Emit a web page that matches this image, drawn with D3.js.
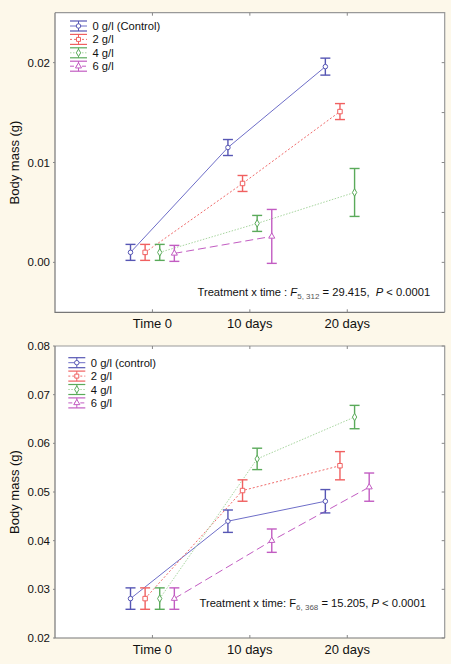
<!DOCTYPE html>
<html>
<head>
<meta charset="utf-8">
<script src="https://cdn.jsdelivr.net/npm/d3@7"></script>
<style>
  body { margin: 0; background: #fdf8ea; }
  svg { display: block; font-family: "Liberation Sans", Arial, sans-serif; }
  text { white-space: pre; }
</style>
</head>
<body>
<div id="chart"></div>
<script>
const categories = ['Time 0', '10 days', '20 days'];
const seriesTop = ['0 g/l (Control)', '2 g/l', '4 g/l', '6 g/l'];
const seriesBottom = ['0 g/l (control)', '2 g/l', '4 g/l', '6 g/l'];

// means and +/- error, one row per series, one column per time point
const topMeans = [
  [0.0010, 0.0115, 0.0196],
  [0.0010, 0.0079, 0.0151],
  [0.0010, 0.0039, 0.0070],
  [0.0009, 0.0026, null]
];
const topErr = [
  [0.0008, 0.0008, 0.00085],
  [0.0008, 0.0008, 0.0008],
  [0.0008, 0.0008, 0.0024],
  [0.0008, 0.0027, null]
];
const bottomMeans = [
  [0.0281, 0.0440, 0.0481],
  [0.0281, 0.0503, 0.0554],
  [0.0281, 0.0568, 0.0654],
  [0.0281, 0.0400, 0.0510]
];
const bottomErr = [
  [0.0022, 0.0023, 0.0024],
  [0.0022, 0.0022, 0.0029],
  [0.0022, 0.0022, 0.0024],
  [0.0022, 0.0024, 0.0029]
];
const topTicks = [0, 0.01, 0.02];
const bottomTicks = [0.02, 0.03, 0.04, 0.05, 0.06, 0.07, 0.08];

const colors = ['#5656b4', '#f06060', '#5aaa5a', '#c25cc2'];
const lineColors = ['#6e6ec8', '#f06a6a', '#a8d6a0', '#c25cc2'];
const dashes = [null, '2,2', '1.5,1.5', '8,4'];
const offsets = [-0.225, -0.075, 0.075, 0.225];
const shapes = [d3.symbolCircle, d3.symbolSquare, d3.symbolDiamond, d3.symbolTriangle];

const width = 451, height = 664;
const svg = d3.select('#chart').append('svg').attr('width', width).attr('height', height);

function drawPanel(cfg) {
  const x = d3.scaleLinear().domain([0, 4]).range([55, 444.7]);
  const y = d3.scaleLinear().domain(cfg.domain).range([cfg.bottom, cfg.top]);
  const g = svg.append('g');

  g.append('rect').attr('x', 55).attr('y', cfg.top).attr('width', 389.7).attr('height', cfg.bottom - cfg.top)
    .attr('fill', '#fff');
  // lighter top/right border, darker left/bottom
  g.append('path').attr('d', `M55,${cfg.top}H444.7V${cfg.bottom}`).attr('fill', 'none').attr('stroke', '#999').attr('stroke-width', 1.2);
  g.append('path').attr('d', `M55,${cfg.top}V${cfg.bottom}H444.7`).attr('fill', 'none').attr('stroke', '#777').attr('stroke-width', 1.2);

  // category ticks (inward, top and bottom)
  categories.forEach((c, i) => {
    g.append('line').attr('x1', x(i + 1)).attr('x2', x(i + 1)).attr('y1', cfg.bottom).attr('y2', cfg.bottom - 3).attr('stroke', '#888');
    g.append('line').attr('x1', x(i + 1)).attr('x2', x(i + 1)).attr('y1', cfg.top).attr('y2', cfg.top + 3).attr('stroke', '#888');
    g.append('text').attr('x', x(i + 1)).attr('y', cfg.bottom + 16).attr('text-anchor', 'middle')
      .attr('font-size', 13).attr('fill', '#111').text(c);
  });

  // y axis labels + ticks
  cfg.ticks.forEach(t => {
    g.append('text').attr('x', 50).attr('y', y(t) + 4).attr('text-anchor', 'end')
      .attr('font-size', 11.5).attr('fill', '#111').text(d3.format('.2f')(t));
    g.append('line').attr('x1', 53).attr('x2', 55).attr('y1', y(t)).attr('y2', y(t)).attr('stroke', '#888');
  });
  cfg.rightTicks.forEach(t => {
    g.append('line').attr('x1', 444.7).attr('x2', 441.7).attr('y1', y(t)).attr('y2', y(t)).attr('stroke', '#888');
  });

  g.append('text').attr('transform', `translate(19,${(cfg.top + cfg.bottom) / 2}) rotate(-90)`)
    .attr('text-anchor', 'middle').attr('font-size', 13).attr('fill', '#111').text('Body mass (g)');

  // lines
  cfg.means.forEach((row, s) => {
    const pts = row.map((v, i) => v == null ? null : [x(i + 1 + offsets[s]), y(v)]).filter(p => p);
    g.append('path').attr('d', d3.line()(pts)).attr('fill', 'none')
      .attr('stroke', lineColors[s]).attr('stroke-width', 1)
      .attr('stroke-dasharray', dashes[s]);
  });

  // error bars + markers
  cfg.means.forEach((row, s) => {
    row.forEach((v, i) => {
      if (v == null) return;
      const e = cfg.err[s][i];
      const cx = x(i + 1 + offsets[s]);
      const eb = g.append('g').attr('stroke', colors[s]).attr('stroke-width', 1.4);
      eb.append('line').attr('x1', cx).attr('x2', cx).attr('y1', y(v - e)).attr('y2', y(v + e));
      eb.append('line').attr('x1', cx - 5).attr('x2', cx + 5).attr('y1', y(v - e)).attr('y2', y(v - e));
      eb.append('line').attr('x1', cx - 5).attr('x2', cx + 5).attr('y1', y(v + e)).attr('y2', y(v + e));
      g.append('path').attr('d', d3.symbol().type(shapes[s]).size(s === 1 ? 20 : 16)())
        .attr('transform', `translate(${cx},${y(v)})`)
        .attr('fill', '#fff').attr('stroke', colors[s]).attr('stroke-width', 1);
    });
  });

  // legend
  cfg.series.forEach((name, s) => {
    const ly = cfg.legendY + s * 13.4;
    const lx0 = cfg.legendX, lx1 = cfg.legendX + 17, lc = cfg.legendX + 8.5;
    const lg = g.append('g');
    lg.append('line').attr('x1', lx0).attr('x2', lx1).attr('y1', ly - 5).attr('y2', ly - 5).attr('stroke', colors[s]).attr('stroke-width', 1.2);
    lg.append('line').attr('x1', lx0).attr('x2', lx1).attr('y1', ly + 5).attr('y2', ly + 5).attr('stroke', colors[s]).attr('stroke-width', 1.2);
    lg.append('line').attr('x1', lc).attr('x2', lc).attr('y1', ly - 5).attr('y2', ly + 5).attr('stroke', colors[s]).attr('stroke-width', 1);
    lg.append('line').attr('x1', lx0).attr('x2', lx1).attr('y1', ly).attr('y2', ly).attr('stroke', lineColors[s])
      .attr('stroke-dasharray', dashes[s] === '8,4' ? '4,2' : dashes[s]);
    lg.append('path').attr('d', d3.symbol().type(shapes[s]).size(16)())
      .attr('transform', `translate(${lc},${ly})`).attr('fill', '#fff').attr('stroke', colors[s]);
    lg.append('text').attr('x', cfg.legendX + 22.5).attr('y', ly + 4).attr('font-size', 11.2).attr('fill', '#111').text(name);
  });

  // statistics annotation
  const t = g.append('text').attr('x', cfg.noteX).attr('y', cfg.noteY).attr('font-size', 11.2).attr('fill', '#111');
  t.append('tspan').text(cfg.note[0]);
  t.append('tspan').attr('font-style', cfg.fItalic ? 'italic' : 'normal').text('F');
  t.append('tspan').attr('font-size', 8).attr('dy', 3).attr('fill', '#555').text(cfg.note[1]);
  t.append('tspan').attr('dy', -3).text(cfg.note[2]);
  t.append('tspan').attr('font-style', 'italic').text('P');
  t.append('tspan').text(cfg.note[3]);
}

drawPanel({
  top: 12.7, bottom: 312.3, domain: [-0.005, 0.025],
  ticks: topTicks, rightTicks: [0, 0.005, 0.01, 0.015, 0.02],
  means: topMeans, err: topErr, series: seriesTop,
  legendX: 70, legendY: 26,
  noteX: 197.5, noteY: 296, fItalic: true,
  note: ['Treatment x time : ', '5, 312', ' = 29.415,  ', ' < 0.0001']
});

drawPanel({
  top: 346, bottom: 638, domain: [0.02, 0.08],
  ticks: bottomTicks, rightTicks: bottomTicks,
  means: bottomMeans, err: bottomErr, series: seriesBottom,
  legendX: 68.3, legendY: 362.7,
  noteX: 199.5, noteY: 607, fItalic: false,
  note: ['Treatment x time: ', '6, 368', ' = 15.205, ', ' < 0.0001']
});
</script>
</body>
</html>
